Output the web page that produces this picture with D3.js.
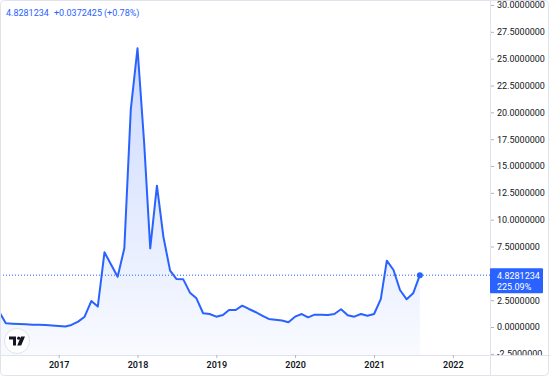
<!DOCTYPE html>
<html>
<head>
<meta charset="utf-8">
<script src="https://cdn.jsdelivr.net/npm/d3@7"></script>
<style>
  body { margin: 0; background: #fff; }
  svg { display: block; font-family: Roboto, "Liberation Sans", sans-serif; }
</style>
</head>
<body>
<svg id="chart" width="550" height="376"></svg>
<script>
// Monthly closes, April 2016 to August 2021
var startMonth = "2016-04";
var values = [
    1.4, 0.34, 0.3, 0.27, 0.25, 0.22, 0.2, 0.18, 0.14,                    // 2016 Apr-Dec
    0.1, 0.04, 0.19, 0.5, 0.96, 2.42, 1.9, 6.96, 5.8, 4.69, 7.33, 20.3,   // 2017
    25.97, 17.1, 7.33, 13.17, 8.4, 5.25, 4.47, 4.44, 3.2, 2.67, 1.28, 1.21, // 2018
    0.96, 1.12, 1.58, 1.58, 1.99, 1.68, 1.4, 1.07, 0.75, 0.68, 0.6, 0.44, // 2019
    0.96, 1.21, 0.9, 1.15, 1.13, 1.12, 1.21, 1.65, 1.09, 0.96, 1.21, 1.05, // 2020
    1.21, 2.6, 6.18, 5.31, 3.45, 2.58, 3.14, 4.8281234                    // 2021 Jan-Aug
];
var lastPrice = "4.8281234";
var change = "+0.0372425";
var changePct = "(+0.78%)";
var lastPctLabel = "225.09%";
var priceTicks = [-2.5, 0, 2.5, 5, 7.5, 10, 12.5, 15, 17.5, 20, 22.5, 25, 27.5, 30];
var yearTicks = [2017, 2018, 2019, 2020, 2021, 2022];

var parseMonth = d3.timeParse("%Y-%m");
var first = parseMonth(startMonth);
var data = values.map(function(v, i) {
    return { date: d3.timeMonth.offset(first, i), value: v };
});

var blue = "#2962FF";
var paneW = 490, paneH = 355;

var svg = d3.select("#chart");

var x = d3.scaleTime()
    .domain([new Date(2016, 3, 4), new Date(2022, 5, 22)])
    .range([0, paneW]);
var y = d3.scaleLinear().domain([0, 30]).range([327, 5]);

var defs = svg.append("defs");
defs.append("clipPath").attr("id", "pane")
    .append("rect").attr("width", paneW).attr("height", paneH);
// in the axis group's own coordinates
defs.append("clipPath").attr("id", "axisclip")
    .append("rect").attr("x", 0).attr("width", 60).attr("height", paneH);

var grad = defs.append("linearGradient")
    .attr("id", "fillgrad")
    .attr("gradientUnits", "userSpaceOnUse")
    .attr("x1", 0).attr("x2", 0)
    .attr("y1", y(d3.max(values))).attr("y2", paneH);
grad.append("stop").attr("offset", 0).attr("stop-color", blue).attr("stop-opacity", 0.24);
grad.append("stop").attr("offset", 1).attr("stop-color", blue).attr("stop-opacity", 0.03);

var pane = svg.append("g").attr("clip-path", "url(#pane)");

var area = d3.area()
    .x(d => x(d.date))
    .y0(paneH)
    .y1(d => y(d.value));
var line = d3.line()
    .x(d => x(d.date))
    .y(d => y(d.value));

pane.append("path")
    .datum(data)
    .attr("d", area)
    .attr("fill", "url(#fillgrad)");

// last price dotted line
var last = data[data.length - 1];
pane.append("line")
    .attr("x1", 0).attr("x2", paneW)
    .attr("y1", y(last.value)).attr("y2", y(last.value))
    .attr("stroke", blue)
    .attr("stroke-width", 1)
    .attr("stroke-dasharray", "1,2");

pane.append("path")
    .datum(data)
    .attr("d", line)
    .attr("fill", "none")
    .attr("stroke", blue)
    .attr("stroke-width", 2)
    .attr("stroke-linejoin", "round");

pane.append("circle")
    .attr("cx", x(last.date)).attr("cy", y(last.value))
    .attr("r", 3).attr("fill", blue);

// header
var header = svg.append("g").attr("fill", blue).style("font-size", "9px");
header.append("text").attr("x", 6).attr("y", 16).text(lastPrice);
header.append("text").attr("x", 54).attr("y", 16).text(change);
header.append("text").attr("x", 104).attr("y", 16).text(changePct);

// price axis (labels hidden behind the last price badge are skipped)
var shownTicks = priceTicks.filter(t => Math.abs(y(t) - y(last.value) - 5) > 14);
var yAxis = svg.append("g")
    .attr("transform", "translate(" + paneW + ",0)")
    .attr("clip-path", "url(#axisclip)")
    .call(d3.axisRight(y).tickValues(shownTicks).tickSize(4).tickPadding(3)
        .tickFormat(d => d.toFixed(7)));
yAxis.select(".domain").remove();
yAxis.selectAll(".tick line").attr("stroke", "#b2b5be");
yAxis.selectAll(".tick text")
    .attr("fill", "#131722")
    .style("font-size", "9px")
    .style("font-family", "Roboto, 'Liberation Sans', sans-serif");

// borders
svg.append("line").attr("x1", paneW + 0.5).attr("x2", paneW + 0.5)
    .attr("y1", 0).attr("y2", 376).attr("stroke", "#e0e3eb");
svg.append("line").attr("x1", 0).attr("x2", 550)
    .attr("y1", paneH + 0.5).attr("y2", paneH + 0.5).attr("stroke", "#e0e3eb");

// last price label
var lbl = svg.append("g").attr("transform", "translate(" + paneW + "," + y(last.value) + ")");
lbl.append("rect")
    .attr("x", 0).attr("y", -7).attr("width", 53).attr("height", 25)
    .attr("rx", 1).attr("fill", blue);
lbl.append("text").attr("x", 7).attr("y", 3.5)
    .attr("fill", "#fff").style("font-size", "9px").text(lastPrice);
lbl.append("text").attr("x", 7).attr("y", 14.5)
    .attr("fill", "#fff").style("font-size", "9px").text(lastPctLabel);

// time axis
var xAxis = svg.append("g")
    .attr("transform", "translate(0," + paneH + ")")
    .call(d3.axisBottom(x)
        .tickValues(yearTicks.map(yr => new Date(yr, 0, 1)))
        .tickSize(3).tickPadding(4)
        .tickFormat(d3.timeFormat("%Y")));
xAxis.select(".domain").remove();
xAxis.selectAll(".tick line").attr("stroke", "#b2b5be");
xAxis.selectAll(".tick text")
    .attr("fill", "#131722")
    .style("font-size", "9px")
    .style("font-weight", "600")
    .style("font-family", "Roboto, 'Liberation Sans', sans-serif");

// outer frame
svg.append("rect")
    .attr("x", 0.5).attr("y", 0.5).attr("width", 548).attr("height", 375)
    .attr("rx", 4).attr("fill", "none").attr("stroke", "#e0e3eb");

// TV logo
var logo = svg.append("g").attr("transform", "translate(17,341)");
logo.append("circle").attr("r", 12.5).attr("fill", "#fff").attr("stroke", "#e0e3eb");
logo.append("path")
    .attr("transform", "translate(-8,-4.5)")
    .attr("d", "M0,0 H7 V9 H4 V3 H0 Z M12,0 H16 L12.2,9 H8.2 Z")
    .attr("fill", "#131722");
logo.append("circle").attr("cx", 1.7).attr("cy", -2.8).attr("r", 1.6).attr("fill", "#131722");
</script>
</body>
</html>
